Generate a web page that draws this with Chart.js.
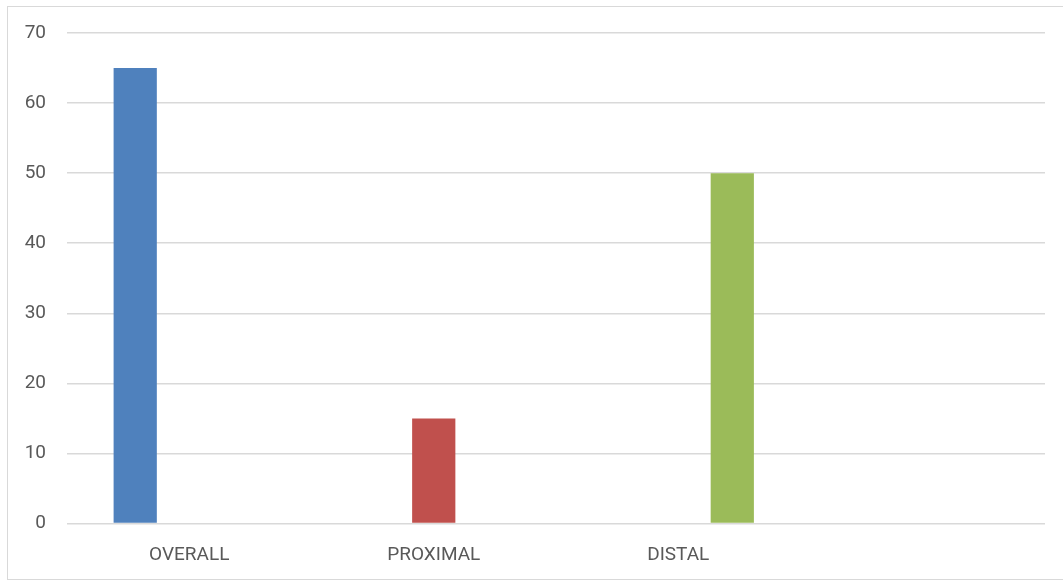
<!DOCTYPE html>
<html>
<head>
<meta charset="utf-8">
<script src="https://cdn.jsdelivr.net/npm/chart.js@4/dist/chart.umd.min.js"></script>
<style>
  body { margin: 0; background: #fff; }
  #wrap { position: relative; width: 1063px; height: 582px; }
  #frame { position: absolute; left: 7px; top: 6px; width: 1062px; height: 574px; border: 1px solid #d9d9d9; box-sizing: border-box; }
  canvas { position: absolute; left: 0; top: 0; }
</style>
</head>
<body>
<div id="wrap">
  <div id="frame"></div>
  <canvas id="barChart" width="1063" height="582"></canvas>
</div>
<script>
// categories (the 4th slot is empty in the original)
const categories = ['OVERALL', 'PROXIMAL', 'DISTAL', ''];
// one series per region, each only has a value in its own category
const overallValues = [65, null, null, null];
const proximalValues = [null, 15, null, null];
const distalValues = [null, null, 50, null];
const yTicks = [0, 10, 20, 30, 40, 50, 60, 70];

const labelFont = { family: 'Roboto', size: 19 };
const textColor = '#595959';

const ctx = document.getElementById('barChart').getContext('2d');

const chartData = {
  labels: categories,
  datasets: [{
    label: 'OVERALL',
    data: overallValues,
    backgroundColor: '#4f81bd'
  }, {
    label: 'PROXIMAL',
    data: proximalValues,
    backgroundColor: '#c0504d'
  }, {
    label: 'DISTAL',
    data: distalValues,
    backgroundColor: '#9bbb59'
  }]
};

const barChart = new Chart(ctx, {
  type: 'bar',
  data: chartData,
  options: {
    responsive: false,
    animation: false,
    categoryPercentage: 0.663,
    barPercentage: 0.8,
    layout: {
      padding: { top: 33, right: 18, left: 0, bottom: 0 }
    },
    plugins: {
      legend: { display: false },
      tooltip: { enabled: false }
    },
    scales: {
      x: {
        grid: { display: false },
        border: { display: false },
        ticks: {
          color: textColor,
          font: labelFont,
          padding: 12,
          maxRotation: 0
        },
        afterFit: (scale) => { scale.height = 58.5; }
      },
      y: {
        min: 0,
        max: 70,
        afterBuildTicks: (scale) => {
          scale.ticks = yTicks.map(v => ({ value: v }));
        },
        grid: {
          color: '#d9d9d9',
          lineWidth: 1.5,
          drawTicks: false
        },
        border: { display: false },
        ticks: {
          color: textColor,
          font: labelFont,
          padding: 21
        },
        afterFit: (scale) => { scale.width = 67; }
      }
    }
  }
});
</script>
</body>
</html>
